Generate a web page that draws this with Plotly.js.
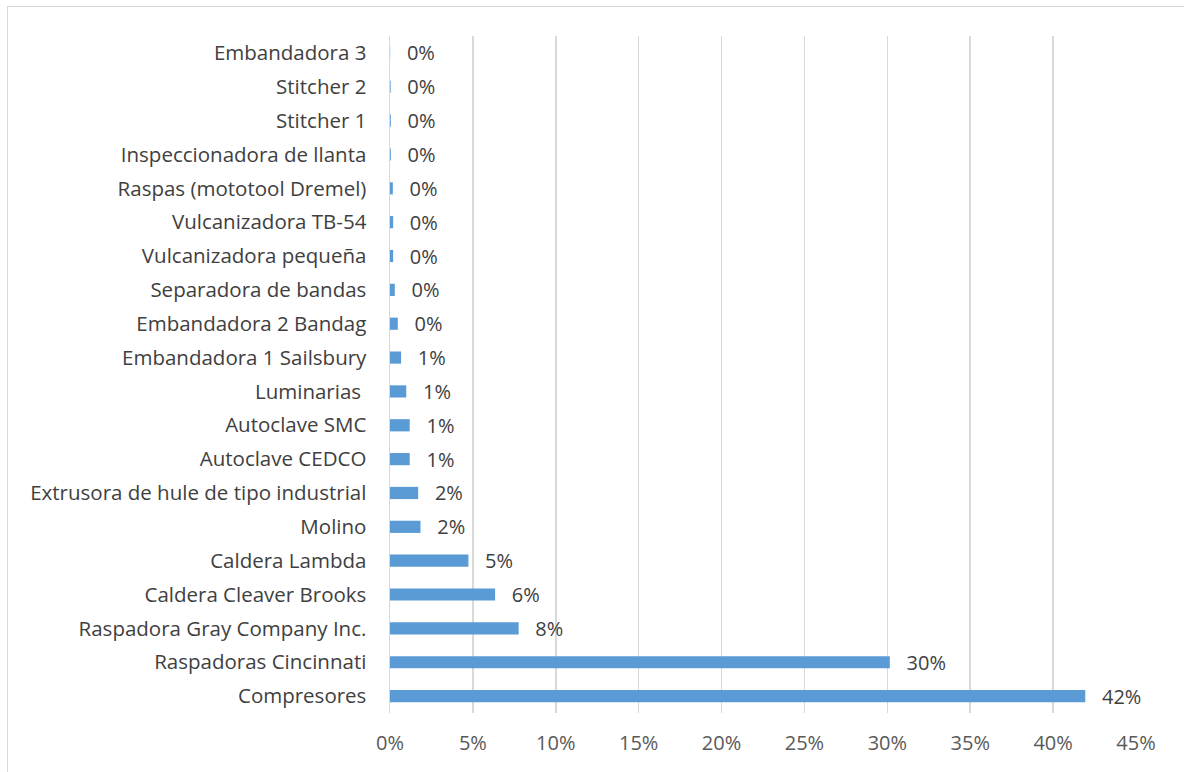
<!DOCTYPE html>
<html>
<head>
<meta charset="utf-8">
<script src="https://cdn.plot.ly/plotly-3.0.1.min.js"></script>
<style>
html,body{margin:0;padding:0;background:#fff;}
#wrap{position:relative;width:1184px;height:772px;overflow:hidden;}
#frame{position:absolute;left:7px;top:6px;width:1200px;height:800px;border:1.5px solid #d9d9d9;box-sizing:border-box;pointer-events:none;z-index:5;}
#chart{position:absolute;left:0;top:0;width:1184px;height:772px;}
</style>
</head>
<body>
<div id="wrap"><div id="chart"></div><div id="frame"></div></div>
<script>
const categories = [
  "Embandadora 3",
  "Stitcher 2",
  "Stitcher 1",
  "Inspeccionadora de llanta",
  "Raspas (mototool Dremel)",
  "Vulcanizadora TB-54",
  "Vulcanizadora pequeña",
  "Separadora de bandas",
  "Embandadora 2 Bandag",
  "Embandadora 1 Sailsbury",
  "Luminarias\u00a0",
  "Autoclave SMC",
  "Autoclave CEDCO",
  "Extrusora de hule de tipo industrial",
  "Molino",
  "Caldera Lambda",
  "Caldera Cleaver Brooks",
  "Raspadora Gray Company Inc.",
  "Raspadoras Cincinnati",
  "Compresores"
];
const shares = [
  0.0001, 0.0004, 0.0005, 0.0005, 0.0017, 0.0019, 0.0019, 0.0029, 0.0047, 0.0067,
  0.0098, 0.0119, 0.0119, 0.0170, 0.0184, 0.0473, 0.0634, 0.0776, 0.3015, 0.4194
];
const xTicks = [0, 0.05, 0.10, 0.15, 0.20, 0.25, 0.30, 0.35, 0.40, 0.45];
const xTickText = ["0%", "5%", "10%", "15%", "20%", "25%", "30%", "35%", "40%", "45%"];

const FONT = "Open Sans, Noto Sans, sans-serif";
const trace = {
  type: "bar",
  orientation: "h",
  y: categories,
  x: shares,
  width: 0.36,
  marker: {color: "#5b9bd5"},
  texttemplate: "\u00a0\u00a0\u2009%{x:.0%}",
  textposition: "outside",
  cliponaxis: false,
  constraintext: "none",
  textfont: {family: FONT, size: 20, color: "#404040"},
  hoverinfo: "none"
};
const layout = {
  width: 1184, height: 772,
  margin: {l: 390, r: 48, t: 36, b: 59},
  paper_bgcolor: "#ffffff",
  plot_bgcolor: "#ffffff",
  showlegend: false,
  font: {family: FONT, color: "#595959"},
  xaxis: {
    range: [0, 0.45],
    tickvals: xTicks,
    ticktext: xTickText,
    showgrid: true,
    gridcolor: "#d9d9d9",
    gridwidth: 1.5,
    zeroline: false,
    showline: false,
    ticks: "outside",
    ticklen: 12,
    tickcolor: "rgba(0,0,0,0)",
    tickfont: {family: FONT, size: 20, color: "#595959"},
    fixedrange: true
  },
  yaxis: {
    autorange: "reversed",
    type: "category",
    showgrid: false,
    zeroline: false,
    showline: true,
    linecolor: "#d9d9d9",
    linewidth: 1.5,
    ticks: "outside",
    ticklen: 18,
    tickcolor: "rgba(0,0,0,0)",
    tickfont: {family: FONT, size: 20.5, color: "#404040"},
    fixedrange: true
  }
};
Plotly.newPlot("chart", [trace], layout, {displayModeBar: false, staticPlot: true});
</script>
</body>
</html>
